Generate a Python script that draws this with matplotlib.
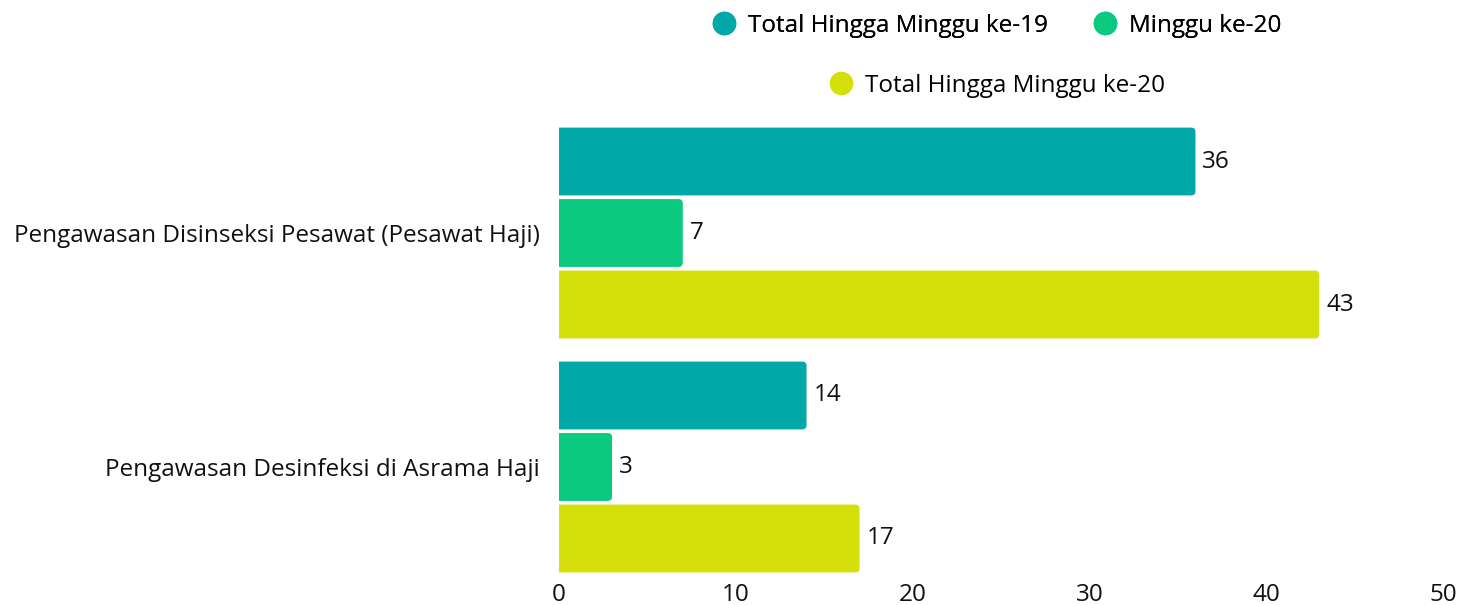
"""
Horizontal grouped bar chart: pengawasan disinseksi / desinfeksi haji
"""

import matplotlib.pyplot as plt
from matplotlib.patches import FancyBboxPatch
from matplotlib.lines import Line2D
import numpy as np

categories = ['Pengawasan Disinseksi Pesawat (Pesawat Haji)',
              'Pengawasan Desinfeksi di Asrama Haji']
series_names = ['Total Hingga Minggu ke-19', 'Minggu ke-20', 'Total Hingga Minggu ke-20']
total_minggu19 = [36, 14]
minggu20 = [7, 3]
total_minggu20 = [43, 17]
x_ticks = [0, 10, 20, 30, 40, 50]

COLORS = ['#00A9A7', '#0BC97F', '#D4DF0B']
TEXT = '#111111'
FS = 17.5

plt.rcParams['font.family'] = ['Open Sans', 'DejaVu Sans']

fig = plt.figure(figsize=(14.73, 6.05), dpi=100)
W, H = 1473, 605
ax = fig.add_axes([559 / W, 1 - 580 / H, (1443 - 559) / W, (580 - 120) / H])

y = np.arange(len(categories))
step = 0.3056
bar_h = 0.29
series = [total_minggu19, minggu20, total_minggu20]

for i, vals in enumerate(series):
    offs = (i - 1) * step
    bars = ax.barh(y + offs, vals, height=bar_h, color=COLORS[i], label=series_names[i])
    ax.bar_label(bars, padding=5, fontsize=FS, color=TEXT)
    # swap plain rectangles for ones with small rounded corners
    for r in bars:
        x0, y0 = r.get_x(), r.get_y()
        w, h = r.get_width(), r.get_height()
        r.set_visible(False)
        rp = FancyBboxPatch((x0 - 0.5, y0), w + 0.5, h,
                            boxstyle="round,pad=0,rounding_size=0.25",
                            mutation_aspect=0.072,
                            facecolor=COLORS[i], edgecolor='none')
        ax.add_patch(rp)

ax.set_xlim(0, 50)
ax.set_ylim(1.483, -0.483)
ax.set_xticks(x_ticks)
ax.set_yticks(y)
ax.set_yticklabels(categories)
ax.tick_params(axis='y', length=0, pad=14, labelsize=FS, labelcolor=TEXT)
ax.tick_params(axis='x', length=0, pad=2, labelsize=FS, labelcolor=TEXT)
for s in ax.spines.values():
    s.set_visible(False)

# legend in two rows, both centred
handles = [Line2D([0], [0], marker='o', linestyle='none', markersize=17,
                  markerfacecolor=c, markeredgecolor='none') for c in COLORS]
leg1 = fig.legend(handles[:2], series_names[:2], loc='center',
                  bbox_to_anchor=(996 / W, 1 - 26 / H), ncol=2, frameon=False,
                  fontsize=FS, handletextpad=0.45, columnspacing=1.8, handlelength=1.1)
fig.add_artist(leg1)
fig.legend(handles[2:], series_names[2:], loc='center',
           bbox_to_anchor=(996 / W, 1 - 86 / H), frameon=False,
           fontsize=FS, handletextpad=0.45, handlelength=1.1)

plt.savefig('out.png', dpi=100, facecolor='white')
plt.close()
